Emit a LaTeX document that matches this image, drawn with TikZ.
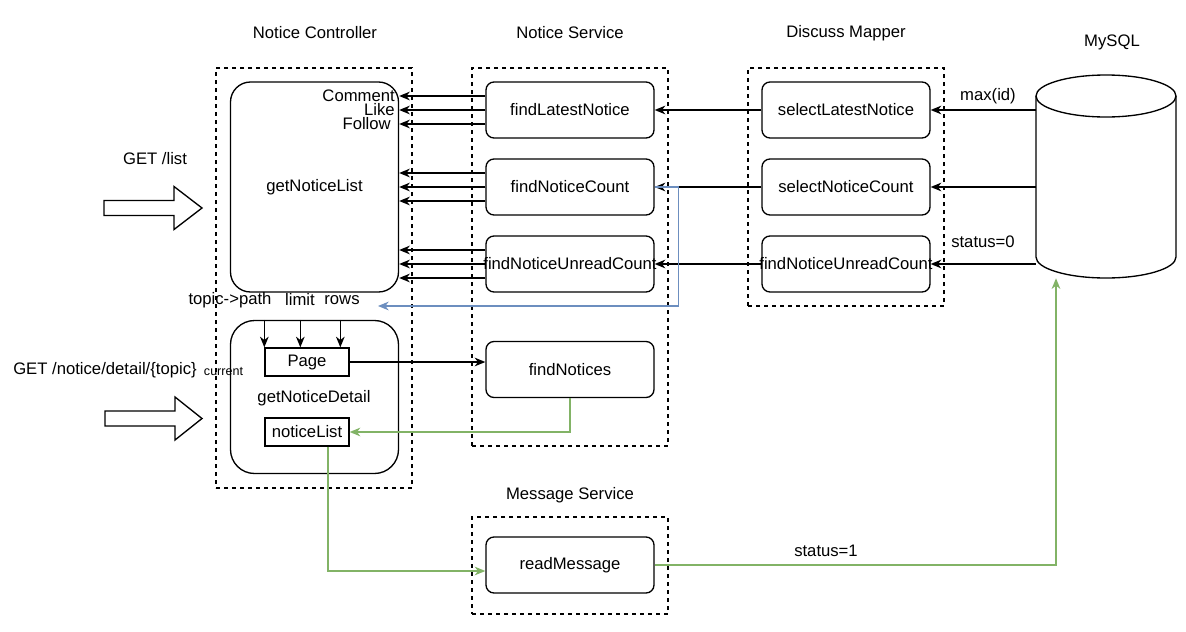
\documentclass[tikz,border=0pt]{standalone}
\usepackage{fontspec}
\setmainfont{Liberation Sans}
\usetikzlibrary{arrows.meta}
\definecolor{bluel}{HTML}{6C8EBF}
\definecolor{greenl}{HTML}{82B366}
\begin{document}
\begin{tikzpicture}[x=0.75pt,y=-0.75pt,
  font=\fontsize{12.5}{15}\selectfont,
  ln/.style={line width=1pt},
  arr/.style={ln,-{Stealth[length=8pt,width=6.5pt,inset=2.5pt]}},
  barr/.style={arr,draw=bluel},
  garr/.style={arr,draw=greenl},
  grp/.style={draw,line width=1pt,dash pattern=on 3pt off 3pt,minimum width=147pt,inner sep=0pt},
  fnbox/.style={draw,ln,rounded corners=6pt,minimum width=126pt,minimum height=42pt,inner sep=0pt},
  bigbox/.style={draw,ln,minimum width=126pt,inner sep=0pt},
  smallbox/.style={draw,ln,minimum width=63pt,minimum height=21pt,inner sep=0pt},
  lbl/.style={inner sep=0pt},
  blockarrow/.style={draw,line width=1pt,fill=white}
]
\useasboundingbox (0,0) rectangle (1186,632);

% containers
\node[grp,minimum height=315pt] (nc) at (314,278) {};
\node[grp,minimum height=283.5pt] (ns) at (570,257) {};
\node[grp,minimum height=178.5pt] (dm) at (846,187) {};
\node[grp,minimum height=72.75pt] (ms) at (570,565.5) {};

% titles
\node[lbl] (tnc) at (315,33) {Notice Controller};
\node[lbl] (tns) at (570,33) {Notice Service};
\node[lbl] (tdm) at (846,33) {Discuss Mapper};
\node[lbl] (tdb) at (1112,42) {MySQL};
\node[lbl] (tms) at (570,495) {Message Service};

% controller boxes
\node[bigbox,rounded corners=15pt,minimum height=157.5pt] (gnl) at (314.5,187) {getNoticeList};
\node[bigbox,rounded corners=18pt,minimum height=114.75pt] (gnd) at (314.5,397) {};
\node[lbl] (gndt) at (314,398) {getNoticeDetail};
\node[smallbox] (page) at (307,362) {Page};
\node[smallbox] (nl) at (307,432) {noticeList};

% service boxes
\node[fnbox] (fln) at (570,110) {findLatestNotice};
\node[fnbox] (fnc) at (570,187) {findNoticeCount};
\node[fnbox] (fnuc) at (570,264) {\makebox[0pt]{findNoticeUnreadCount}};
\node[fnbox] (fn) at (570,369.5) {findNotices};
\node[fnbox] (rm) at (570,565) {readMessage};

% mapper boxes
\node[fnbox] (sln) at (846,110) {selectLatestNotice};
\node[fnbox] (snc) at (846,187) {selectNoticeCount};
\node[fnbox] (snuc) at (846,264) {\makebox[0pt]{findNoticeUnreadCount}};

% database
\node[minimum width=105pt,minimum height=152.25pt,inner sep=0pt] (db) at (1106,176.5) {};
\draw[ln] (1036,96) -- (1036,257) arc[start angle=180,end angle=360,x radius=52.5pt,y radius=15.75pt] -- (1176,96);
\draw[ln] (1106,96) ellipse[x radius=52.5pt,y radius=15.75pt];

% labels in controller
\node[lbl,anchor=east] (lc) at (395,96) {Comment};
\node[lbl,anchor=east] (ll) at (395,110) {Like};
\node[lbl,anchor=east] (lf) at (391,124) {Follow};
\node[lbl] (ltp) at (230,300) {topic->path};
\node[lbl] (llim) at (300,300) {limit};
\node[lbl] (lrows) at (342,300) {rows};

% request labels and block arrows
\node[lbl] (get1) at (155,159) {GET /list};
\node[lbl] (get2) at (105,370) {GET /notice/detail/\{topic\}};
\node[lbl,font=\fontsize{9.4}{11}\selectfont] (cur) at (223.5,372) {current};
\draw[blockarrow] (104,200.5) -- (174,200.5) -- (174,186.5) -- (202,208) -- (174,229.5) -- (174,215.5) -- (104,215.5) -- cycle;
\draw[blockarrow] (105,411) -- (175,411) -- (175,397) -- (202,418.5) -- (175,440) -- (175,426) -- (105,426) -- cycle;

% service -> controller
\foreach \s in {fln,fnc,fnuc}{
  \draw[arr] ([yshift=10.5pt]\s.west) -- ([yshift=10.5pt]\s.west -| gnl.east);
  \draw[arr] (\s.west) -- (\s.west -| gnl.east);
  \draw[arr] ([yshift=-10.5pt]\s.west) -- ([yshift=-10.5pt]\s.west -| gnl.east);
}

% mapper -> service
\draw[arr] (sln.west) -- (fln.east);
\draw[arr] (snc.west) -- (fnc.east);
\draw[arr] (snuc.west) -- (fnuc.east);

% db -> mapper
\draw[arr] (db.west |- sln.east) -- (sln.east);
\draw[arr] (db.west |- snc.east) -- (snc.east);
\draw[arr] (db.west |- snuc.east) -- (snuc.east);
\node[lbl] (lmax) at (988,96) {max(id)};
\node[lbl] (ls0) at (983,242) {status=0};

% blue path
\coordinate (rowsin) at (378,306);
\draw[barr] (fnc.east) -- ++(24,0) -- ++(0,119) -- (rowsin);

% parameters into Page
\draw[arr] (page.north west |- gnd.north) -- (page.north west);
\draw[arr] ([xshift=27pt]page.north west |- gnd.north) -- ([xshift=27pt]page.north west);
\draw[arr] ([xshift=57pt]page.north west |- gnd.north) -- ([xshift=57pt]page.north west);

% Page -> findNotices
\draw[arr] (page.east) -- (fn.west |- page.east);

% green paths
\draw[garr] (fn.south) |- (nl.east);
\draw[garr] ([xshift=15.75pt]nl.south) |- ([yshift=-4.5pt]rm.west);
\draw[garr] (rm.east) -| ([xshift=-37.5pt]db.south);
\node[lbl] (ls1) at (826,551) {status=1};
\end{tikzpicture}
\end{document}
